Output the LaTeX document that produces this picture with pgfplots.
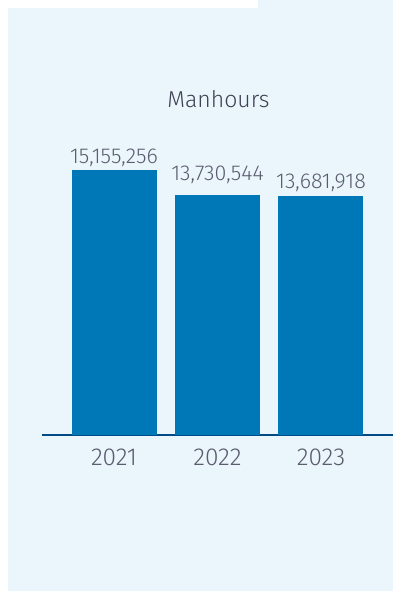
\documentclass[border=0pt]{standalone}
\usepackage{fontspec}
\setmainfont{Fira Sans}[UprightFont=* Light]
\usepackage{pgfplots}
\pgfplotsset{compat=1.18}
\definecolor{bg}{HTML}{EBF6FC}
\definecolor{barc}{HTML}{0077B6}
\definecolor{basec}{HTML}{004B85}
\definecolor{txt}{HTML}{5B5C6E}
\definecolor{ttl}{HTML}{3F4152}
\begin{document}
\begin{tikzpicture}[x=1pt,y=1pt]
\fill[white] (0,0) rectangle (393,591);
\fill[bg] (8,0) rectangle (393,583);
\fill[bg] (258,583) rectangle (393,591);
\node[anchor=base, text=ttl, font=\fontsize{23}{27}\selectfont] at (218.5,483) {Manhours};
\begin{axis}[
  at={(42pt,156pt)}, anchor=south west,
  scale only axis, width=351pt, height=300pt,
  xmin=-0.696, xmax=2.696, ymin=0, ymax=17160000,
  clip=false, ybar, bar width=85pt,
  hide y axis,
  axis x line*=bottom,
  x axis line style={draw=basec, line width=2.5pt, -},
  xtick={0,1,2}, xticklabels={2021,2022,2023},
  major tick length=0pt,
  xticklabel style={anchor=base, yshift=-31pt, text=txt, font=\fontsize{24.5}{28}\selectfont},
  point meta=explicit symbolic,
  nodes near coords,
  every node near coord/.append style={anchor=base, text=txt, font=\fontsize{21.5}{25}\selectfont},
]
\addplot[fill=barc, draw=none, bar shift=0pt, every node near coord/.append style={yshift=7pt}] coordinates {(0,15155256) [15,155,256]};
\addplot[fill=barc, draw=none, bar shift=0pt, every node near coord/.append style={yshift=14pt}] coordinates {(1,13730544) [13,730,544]};
\addplot[fill=barc, draw=none, bar shift=0pt, every node near coord/.append style={yshift=7pt}] coordinates {(2,13681918) [13,681,918]};
\end{axis}
\end{tikzpicture}
\end{document}
